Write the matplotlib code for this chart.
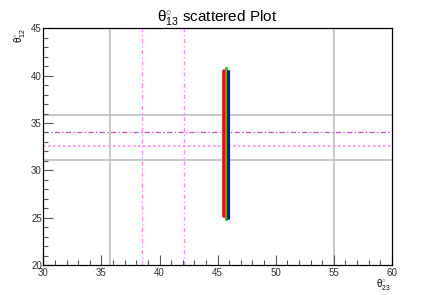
import matplotlib
matplotlib.use('Agg')
import matplotlib.pyplot as plt
from matplotlib.ticker import MultipleLocator

plt.rcParams['font.family'] = ['Liberation Sans', 'DejaVu Sans']
plt.rcParams['mathtext.fontset'] = 'custom'
plt.rcParams['mathtext.rm'] = 'Liberation Sans'
plt.rcParams['mathtext.it'] = 'Liberation Sans'

# scatter bands: x position and y extent (theta23, theta12)
red_x = [45.55, 45.55]
red_y = [25.2, 40.5]
green_x = [45.7, 45.7]
green_y = [24.9, 40.8]
blue_x = [45.85, 45.85]
blue_y = [25.0, 40.5]

# reference ranges
gray_v = [35.75, 55.0]
gray_h = [35.86, 31.1]
mag_v = [38.5, 42.1]
mag_h_dashdot = 34.1
mag_h_dot = 32.6

fig = plt.figure(figsize=(4.36, 2.95), dpi=100)
ax = fig.add_axes([0.0993, 0.1017, 0.7997, 0.8023])

for v in gray_v:
    ax.axvline(v, color='#c4c4c4', linewidth=1.3, zorder=1)
for h in gray_h:
    ax.axhline(h, color='#c4c4c4', linewidth=1.3, zorder=1)
for v in mag_v:
    ax.axvline(v, color='#ff88ff', linewidth=1.0, linestyle=(0, (3, 2, 1, 2)), zorder=1)
ax.axhline(mag_h_dashdot, color='#cc44cc', linewidth=0.9, linestyle=(0, (4, 2, 1, 2)), zorder=1)
ax.axhline(mag_h_dot, color='#ff88ff', linewidth=1.2, linestyle=(0, (1.5, 1.5)), zorder=1)

ax.plot(red_x, red_y, color='#ff0000', linewidth=2.6, solid_capstyle='round', zorder=2)
ax.plot(green_x, green_y, color='#00dd00', linewidth=2.2, solid_capstyle='round', zorder=3)
ax.plot(blue_x, blue_y, color='#0000ff', linewidth=2.2, solid_capstyle='round', zorder=4)

ax.set_xlim(30, 60)
ax.set_ylim(20, 45)
ax.xaxis.set_major_locator(MultipleLocator(5))
ax.xaxis.set_minor_locator(MultipleLocator(1))
ax.yaxis.set_major_locator(MultipleLocator(5))
ax.yaxis.set_minor_locator(MultipleLocator(1))
ax.tick_params(which='both', direction='in', colors='#555555', labelcolor='#333333',
               labelsize=7, top=False, right=False)
ax.tick_params(which='major', length=7, width=0.8)
ax.tick_params(which='minor', length=3.5, width=0.8)
ax.tick_params(axis='x', pad=2)
ax.tick_params(axis='y', pad=1)
for s in ax.spines.values():
    s.set_linewidth(0.9)
    s.set_color('black')

ax.set_title(r'$\mathrm{\theta}^{\circ}_{13}$ scattered Plot', fontsize=11, pad=5)
fig.text(0.044, 0.905, r'$\mathrm{\theta}^{\circ}_{12}$', rotation=90, fontsize=7,
         ha='center', va='top')
fig.text(0.88, 0.035, r'$\mathrm{\theta}^{\circ}_{23}$', fontsize=7, ha='center', va='center')

fig.savefig('out.png', dpi=100)
plt.close()
